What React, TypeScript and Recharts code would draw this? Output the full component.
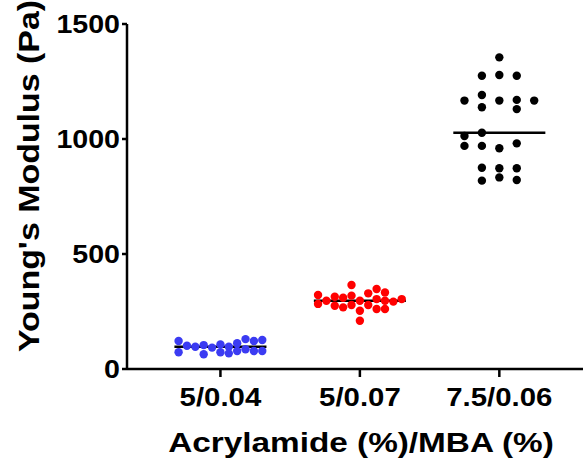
import React from 'react';
import {
  ComposedChart,
  Scatter,
  XAxis,
  YAxis,
  ReferenceLine,
} from 'recharts';

// Groups on the x axis
const categories = ['5/0.04', '5/0.07', '7.5/0.06'];
const yTicks = [0, 500, 1000, 1500];

// Each point: [lane, value in Pa] — lane is the horizontal jitter column
const blueValues: [number, number][] = [
  [-5, 122], [-5, 73], [-4, 101], [-3, 97], [-2, 104], [-2, 64], [-1, 93],
  [0, 107], [0, 73], [1, 97], [1, 68], [2, 112], [2, 78], [3, 130], [3, 86],
  [4, 122], [4, 78], [5, 126], [5, 78],
];
const redValues: [number, number][] = [
  [-5, 322], [-5, 283], [-4, 297], [-3, 314], [-3, 275], [-2, 310], [-2, 268],
  [-1, 365], [-1, 319], [-1, 278], [0, 297], [0, 253], [0, 210], [1, 329],
  [1, 278], [2, 348], [2, 304], [2, 261], [3, 333], [3, 297], [3, 261],
  [4, 293], [5, 304],
];
const blackValues: [number, number][] = [
  [0, 1355], [-1, 1275], [0, 1278], [1, 1275], [-2, 1167], [-1, 1191],
  [0, 1167], [1, 1170], [2, 1167], [-1, 1138], [1, 1130], [-2, 1013],
  [-1, 1027], [-2, 970], [-1, 970], [0, 960], [1, 981], [-1, 875], [0, 873],
  [1, 873], [-1, 819], [0, 833], [1, 822],
];
const medians = [97, 297, 1027];

const groups = [
  { values: blueValues, color: '#3b3bf2', lane: 0.06 },
  { values: redValues, color: '#ff0000', lane: 0.06 },
  { values: blackValues, color: '#000000', lane: 0.125 },
];

const FONT = 'Arial, "Liberation Sans", sans-serif';

const XTick = (props: any) => {
  const { x, y, payload } = props;
  return (
    <text
      transform={`translate(${x},${y + 19}) scale(1.13,1)`}
      textAnchor="middle"
      fontFamily={FONT}
      fontWeight="bold"
      fontSize={26}
      fill="#000"
    >
      {categories[payload.value - 1]}
    </text>
  );
};

const YTick = (props: any) => {
  const { x, y, payload } = props;
  return (
    <text
      transform={`translate(${x},${y + 9}) scale(1.1,1)`}
      textAnchor="end"
      fontFamily={FONT}
      fontWeight="bold"
      fontSize={26}
      fill="#000"
    >
      {payload.value}
    </text>
  );
};

const Dot = (color: string) => (p: any) => (
  <circle cx={p.cx} cy={p.cy} r={4.2} fill={color} />
);

export default function App() {
  return (
    <div style={{ position: 'absolute', left: 0, top: 0, background: '#fff' }}>
      <ComposedChart
        width={587}
        height={459}
        margin={{ top: 24, right: 4, bottom: 0, left: 0 }}
      >
        <XAxis
          type="number"
          dataKey="x"
          domain={[0.33, 3.6]}
          ticks={[1, 2, 3]}
          tick={<XTick />}
          tickSize={8}
          tickMargin={10}
          height={90}
          axisLine={{ stroke: '#000', strokeWidth: 2.5 }}
          tickLine={{ stroke: '#000', strokeWidth: 2.5 }}
          allowDataOverflow
          label={{
            content: () => (
              <text
                transform="translate(361,452) scale(1.19,1)"
                textAnchor="middle"
                fontFamily={FONT}
                fontWeight="bold"
                fontSize={28}
                fill="#000"
              >
                Acrylamide (%)/MBA (%)
              </text>
            ),
          }}
        />
        <YAxis
          type="number"
          dataKey="y"
          domain={[0, 1500]}
          ticks={yTicks}
          tick={<YTick />}
          tickSize={5}
          tickMargin={2}
          width={127}
          axisLine={{ stroke: '#000', strokeWidth: 2.5 }}
          tickLine={{ stroke: '#000', strokeWidth: 2.5 }}
          label={{
            content: () => (
              <text
                transform="translate(39,176) rotate(-90) scale(1.17,1)"
                textAnchor="middle"
                fontFamily={FONT}
                fontWeight="bold"
                fontSize={29}
                fill="#000"
              >
                Young's Modulus (Pa)
              </text>
            ),
          }}
        />
        {groups.map((g, i) => (
          <Scatter
            key={categories[i]}
            data={g.values.map(([lane, v]) => ({ x: i + 1 + lane * g.lane, y: v }))}
            fill={g.color}
            shape={Dot(g.color)}
            isAnimationActive={false}
          />
        ))}
        {medians.map((m, i) => (
          <ReferenceLine
            key={`med-${i}`}
            segment={[
              { x: i + 1 - 0.33, y: m },
              { x: i + 1 + 0.33, y: m },
            ]}
            stroke="#000"
            strokeWidth={2.5}
          />
        ))}
      </ComposedChart>
    </div>
  );
}
